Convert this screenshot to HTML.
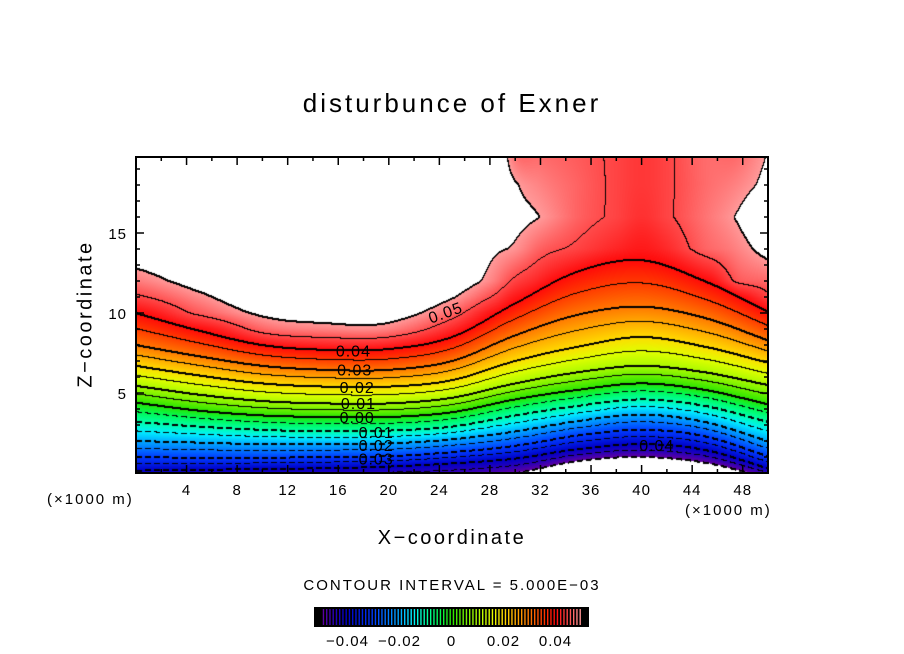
<!DOCTYPE html>
<html><head><meta charset="utf-8">
<style>
html,body{margin:0;padding:0;background:#fff;}
body{width:904px;height:654px;position:relative;overflow:hidden;font-family:"Liberation Sans",sans-serif;color:#000;}
.t{position:absolute;white-space:nowrap;}
</style></head>
<body>
<div class="t" style="left:0;width:904px;text-align:center;top:88px;font-size:26px;letter-spacing:3px;">disturbunce of Exner</div>
<div class="t" style="left:86px;top:314px;font-size:20px;transform:translate(-50%,-50%) rotate(-90deg);letter-spacing:2.5px;">Z−coordinate</div>
<div class="t" style="left:0;width:904px;text-align:center;top:527px;font-size:20px;letter-spacing:2.5px;">X−coordinate</div>
<div class="t" style="left:47px;top:491px;font-size:15px;letter-spacing:2px;">(×1000 m)</div>
<div class="t" style="left:685px;top:502px;font-size:15px;letter-spacing:2px;">(×1000 m)</div>
<div class="t" style="left:0;width:904px;text-align:center;top:577px;font-size:15px;letter-spacing:2px;">CONTOUR INTERVAL = 5.000E−03</div>
<svg id="svg" width="904" height="654" style="position:absolute;left:0;top:0">
  <foreignObject x="136" y="157" width="632" height="316"><canvas id="cv" width="632" height="316" xmlns="http://www.w3.org/1999/xhtml"></canvas></foreignObject>
  <g id="labels"></g>
  <g id="axes"></g>
  <g id="cbar"></g>
</svg>
<script>
// ---- data: lower region, heights (z) of contour levels per column ----
var xs = [0,5,10,15,20,25,30,35,40,45,50];
var levels = [-0.05,-0.04,-0.03,-0.02,-0.01,0,0.01,0.02,0.03,0.04];
var h0  = [-0.6,0.15,1.0,2.0,3.2,4.4,5.45,6.7,8.0,10.0];
var h5  = [-0.5,0.2,0.95,1.9,2.9,3.9,4.9,6.1,7.3,8.9];
var h10 = [-0.45,0.25,0.95,1.8,2.7,3.6,4.5,5.6,6.7,8.0];
var h15 = [-0.4,0.3,1.0,1.8,2.6,3.5,4.35,5.4,6.45,7.7];
var h20 = [-0.35,0.4,1.05,1.85,2.65,3.5,4.35,5.4,6.45,7.75];
var h25 = [-0.3,0.6,1.3,2.1,2.9,3.8,4.7,5.8,7.0,8.5];
var h30 = [0.0,0.9,1.7,2.6,3.6,4.6,5.6,7.0,8.6,10.6];
var h35 = [0.75,1.5,2.35,3.25,4.2,5.2,6.3,7.9,9.9,12.6];
var h40 = [1.0,1.8,2.7,3.65,4.6,5.6,6.7,8.5,10.4,13.3];
var h45 = [0.65,1.45,2.3,3.2,4.2,5.2,6.3,7.9,9.7,12.0];
var h50 = [-0.3,0.3,1.05,2.0,3.2,4.3,5.5,6.9,8.3,10.1];
var heights = [h0,h5,h10,h15,h20,h25,h30,h35,h40,h45,h50];
// ---- data: upper region, values at fixed heights per column ----
var uxs = [0,5,10,15,20,25,28,30,32,35,38,40,42,45,47.5,50];
var uzs = [8,9,10,11,12,14,16,18,19.8];
var u0  = [0.036,0.038,0.040,0.0445,0.048,0.053,0.056,0.058,0.060];
var u5  = [0.038,0.0405,0.046,0.049,0.052,0.055,0.058,0.060,0.060];
var u10 = [0.042,0.0475,0.0512,0.054,0.056,0.058,0.060,0.060,0.060];
var u15 = [0.043,0.049,0.0525,0.055,0.057,0.059,0.060,0.060,0.060];
var u20 = [0.043,0.049,0.0525,0.055,0.057,0.059,0.060,0.060,0.060];
var u25 = [0.039,0.043,0.047,0.0505,0.053,0.056,0.058,0.060,0.060];
var u28 = [0.037,0.039,0.0415,0.0455,0.049,0.051,0.054,0.056,0.057];
var u30 = [0.035,0.037,0.039,0.0415,0.0445,0.0495,0.0515,0.0505,0.0475];
var u32 = [0.034,0.036,0.038,0.040,0.0425,0.0465,0.050,0.0485,0.047];
var u35 = [0.032,0.034,0.036,0.038,0.039,0.0445,0.0465,0.0465,0.046];
var u38 = [0.031,0.033,0.035,0.037,0.038,0.0425,0.0445,0.0445,0.0445];
var u40 = [0.030,0.032,0.034,0.036,0.037,0.041,0.043,0.0435,0.0435];
var u42 = [0.031,0.033,0.035,0.037,0.038,0.0425,0.0445,0.0445,0.0445];
var u45 = [0.032,0.034,0.036,0.038,0.040,0.0465,0.0475,0.047,0.047];
var u475= [0.034,0.036,0.038,0.0405,0.046,0.0485,0.0502,0.0485,0.047];
var u50 = [0.036,0.038,0.040,0.0445,0.047,0.0515,0.054,0.051,0.0502];
var upper = [u0,u5,u10,u15,u20,u25,u28,u30,u32,u35,u38,u40,u42,u45,u475,u50];
var xTicks = [4,8,12,16,20,24,28,32,36,40,44,48];
var yTicks = [5,10,15];
var cbTicks = [-0.04,-0.02,0,0.02,0.04];
var cbTickLabels = ["−0.04","−0.02","0","0.02","0.04"];
var contourLabels = ["0.05","0.04","0.03","0.02","0.01","0.00","0.01","0.02","0.03","0.04"];
var contourLabelX = [24.5,17.2,17.3,17.5,17.6,17.5,19.0,19.0,19.0,41.2];
var contourLabelZ = [10.0,7.6,6.4,5.3,4.3,3.45,2.5,1.7,0.85,1.7];
var contourLabelRot = [-20,0,0,0,0,0,0,0,0,0];
var xMin=0,xMax=50,zMin=0,zMax=19.75;
var PL=136,PR=768,PT=157,PB=473;
function sx(x){return PL+(x-xMin)/(xMax-xMin)*(PR-PL);}
function sy(z){return PB-(z-zMin)/(zMax-zMin)*(PB-PT);}

function cr(kx,ky,x){
  var n=kx.length,i=0;while(i<n-2&&x>kx[i+1])i++;
  var t=(x-kx[i])/(kx[i+1]-kx[i]);
  var p1=ky[i],p2=ky[i+1];
  var d=kx[i+1]-kx[i];
  var m1=i>0?(ky[i+1]-ky[i-1])/(kx[i+1]-kx[i-1])*d:(p2-p1);
  var m2=i<n-2?(ky[i+2]-ky[i])/(kx[i+2]-kx[i])*d:(p2-p1);
  var t2=t*t,t3=t2*t;
  return (2*t3-3*t2+1)*p1+(t3-2*t2+t)*m1+(-2*t3+3*t2)*p2+(t3-t2)*m2;
}
function lin(kx,ky,x){
  if(x<=kx[0]){return ky[0]+(x-kx[0])*(ky[1]-ky[0])/(kx[1]-kx[0]);}
  for(var i=1;i<kx.length;i++)if(x<=kx[i])return ky[i-1]+(x-kx[i-1])/(kx[i]-kx[i-1])*(ky[i]-ky[i-1]);
  return ky[ky.length-1];
}
function column(x){
  var hs=[],us=[];
  for(var k=0;k<levels.length;k++){hs.push(cr(xs,heights.map(function(c){return c[k];}),x));}
  for(var k=0;k<uzs.length;k++){us.push(cr(uxs,upper.map(function(c){return c[k];}),x));}
  return {hs:hs,us:us,top:hs[hs.length-1],utop:lin(uzs,us,hs[hs.length-1])};
}
function evalCol(c,z){
  var hs=c.hs;
  if(z<=c.top){
    if(z<=hs[0]){var s=(levels[1]-levels[0])/(hs[1]-hs[0]);return levels[0]+(z-hs[0])*s;}
    for(var i=1;i<hs.length;i++) if(z<=hs[i]) return levels[i-1]+(z-hs[i-1])/(hs[i]-hs[i-1])*(levels[i]-levels[i-1]);
  }
  var u=lin(uzs,c.us,Math.min(z,19.8));
  return u+(levels[levels.length-1]-c.utop)*Math.exp(-(z-c.top)/1.2);
}
var cstops=[[-0.05,[100,0,160]],[-0.045,[40,0,185]],[-0.04,[0,0,200]],[-0.03,[0,60,255]],[-0.02,[0,170,255]],[-0.015,[0,240,255]],[-0.01,[0,255,170]],[-0.005,[0,250,90]],[0,[40,230,0]],[0.005,[110,240,0]],[0.01,[170,250,0]],[0.015,[225,255,0]],[0.02,[255,220,0]],[0.025,[255,170,0]],[0.03,[255,120,0]],[0.035,[255,60,0]],[0.04,[255,10,10]],[0.045,[255,75,75]],[0.05,[255,155,155]]];
function cmap(v){
  if(v<cstops[0][0])return null;
  for(var i=1;i<cstops.length;i++){if(v<=cstops[i][0]){var a=cstops[i-1],b=cstops[i],t=(v-a[0])/(b[0]-a[0]);return [a[1][0]+(b[1][0]-a[1][0])*t,a[1][1]+(b[1][1]-a[1][1])*t,a[1][2]+(b[1][2]-a[1][2])*t];}}
  return null;
}
var cv=document.getElementById('cv'),ctx=cv.getContext('2d');
var W=632,H=316,img=ctx.createImageData(W,H),F=new Float32Array(W*H);
for(var i=0;i<W;i++){
  var x=xMin+(i+0.5)/W*(xMax-xMin);var col=column(x);
  for(var j=0;j<H;j++){var z=zMax-(j+0.5)/H*(zMax-zMin);F[j*W+i]=evalCol(col,z);}
}
function setPx(i,j,r,g,b){if(i<0||j<0||i>=W||j>=H)return;var k=(j*W+i)*4;img.data[k]=r;img.data[k+1]=g;img.data[k+2]=b;img.data[k+3]=255;}
for(var j=0;j<H;j++)for(var i=0;i<W;i++){
  var c=cmap(F[j*W+i]);
  if(c) setPx(i,j,c[0]|0,c[1]|0,c[2]|0); else setPx(i,j,255,255,255);
}
var STEP=0.005;
function lev(v){return Math.floor(v/STEP+1e-6);}
for(var j=0;j<H;j++)for(var i=0;i<W;i++){
  var a=lev(F[j*W+i]);
  var nb=[[1,0],[0,1]];
  for(var n=0;n<2;n++){
    var ii=i+nb[n][0],jj=j+nb[n][1];if(ii>=W||jj>=H)continue;
    var b=lev(F[jj*W+ii]);if(a===b)continue;
    var L=Math.max(a,b);var lv=L*STEP;
    if(lv<-0.0501||lv>0.0501)continue;
    if(lv<-1e-6 && (i%9)>5)continue;
    setPx(i,j,0,0,0);
    if(Math.abs(L%2)===0){setPx(i,j+1,0,0,0);}
  }
}
ctx.putImageData(img,0,0);

var NS='http://www.w3.org/2000/svg';
function mk(tag,attrs,parent){var e=document.createElementNS(NS,tag);for(var k in attrs)e.setAttribute(k,attrs[k]);parent.appendChild(e);return e;}
var lg=document.getElementById('labels');
for(var i=0;i<contourLabels.length;i++){
  var t=mk('text',{x:sx(contourLabelX[i]),y:sy(contourLabelZ[i])+5,'font-size':16,'letter-spacing':1,'font-family':'Liberation Sans, sans-serif','text-anchor':'middle',transform:'rotate('+contourLabelRot[i]+' '+sx(contourLabelX[i])+' '+sy(contourLabelZ[i])+')'},lg);
  t.textContent=contourLabels[i];
  
  
}
var ax=document.getElementById('axes');
var fr=mk('rect',{x:PL,y:PT,width:PR-PL,height:PB-PT,fill:'none',stroke:'#000','stroke-width':2},ax);


for(var x=2;x<50;x+=2){
  var len=(x%4===0)?8:4,X=sx(x);
  mk('line',{x1:X,y1:PB,x2:X,y2:PB-len,stroke:'#000','stroke-width':1.5},ax);
  mk('line',{x1:X,y1:PT,x2:X,y2:PT+len,stroke:'#000','stroke-width':1.5},ax);
}
for(var z=1;z<zMax;z+=1){
  var len=(z%5===0)?8:4,Y=sy(z);
  mk('line',{x1:PL,y1:Y,x2:PL+len,y2:Y,stroke:'#000','stroke-width':1.5},ax);
  mk('line',{x1:PR,y1:Y,x2:PR-len,y2:Y,stroke:'#000','stroke-width':1.5},ax);
}
for(var i=0;i<xTicks.length;i++){
  var t=mk('text',{x:sx(xTicks[i]),y:495,'font-size':15,'letter-spacing':1,'text-anchor':'middle','font-family':'Liberation Sans, sans-serif'},ax);
  t.textContent=xTicks[i];
  
  
}
for(var i=0;i<yTicks.length;i++){
  var t=mk('text',{x:127,y:sy(yTicks[i])+6,'font-size':15,'letter-spacing':1,'text-anchor':'end','font-family':'Liberation Sans, sans-serif'},ax);
  t.textContent=yTicks[i];
  
  
}
var cb=document.getElementById('cbar');
var CL=315,CR=588,CT=608,CB=626,vMin=-0.0525,vMax=0.0525;
function cx(v){return CL+(v-vMin)/(vMax-vMin)*(CR-CL);}
var bg=mk('rect',{x:CL,y:CT,width:CR-CL,height:CB-CT,fill:'#000',stroke:'#000','stroke-width':2},cb);


for(var v=-0.0505;v<0.0505;v+=0.00125){
  var c=cmap(Math.min(v,0.05));if(!c)continue;
  mk('line',{x1:cx(v),y1:CT+1,x2:cx(v),y2:CB-1,stroke:'rgb('+(c[0]|0)+','+(c[1]|0)+','+(c[2]|0)+')','stroke-width':1.4},cb);
}
for(var i=0;i<cbTicks.length;i++){
  var t=mk('text',{x:cx(cbTicks[i]),y:646,'font-size':15,'letter-spacing':1,'text-anchor':'middle','font-family':'Liberation Sans, sans-serif'},cb);
  t.textContent=cbTickLabels[i];
  
  
}
</script>
</body></html>
